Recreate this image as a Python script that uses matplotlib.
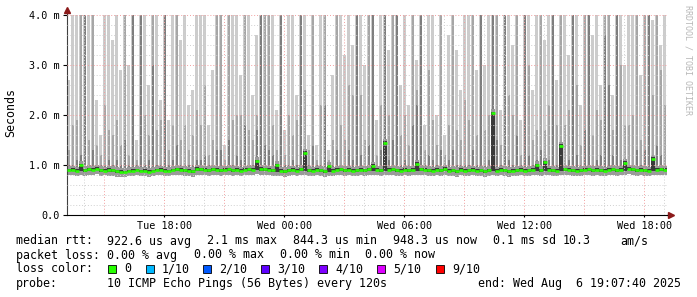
import numpy as np
import matplotlib.pyplot as plt

# ============================================================
# DATEN (Zeit in Stunden ab Di 00:00, Werte in ms)
# ============================================================
t_end = 24 + 19 + 7 / 60 + 40 / 3600     # Wed Aug  6 19:07:40
span_h = 30.0
slot_h = 0.2                              # ein Balken = 12 min

rtt_max = [
    2.7, 4.1, 4.1, 4.1, 4.1, 4.1, 4.1, 2.3, 1.6, 4.1, 4.1, 3.5, 4.1, 2.9, 4.1, 3.0, 4.1, 1.5, 4.1, 4.1,
    2.6, 4.1, 4.1, 2.3, 4.1, 1.9, 4.1, 4.1, 3.5, 4.1, 2.2, 2.5, 4.1, 4.1, 4.1, 1.8, 2.9, 4.1, 4.1, 1.4,
    4.1, 4.1, 4.1, 2.8, 4.1, 4.1, 2.4, 3.6, 4.1, 4.1,
    4.1, 4.1, 2.1, 4.1, 1.7, 4.1, 4.1, 2.4, 4.1, 4.1, 1.6, 4.1, 1.4, 4.1, 4.1, 1.3, 2.8, 4.1, 4.1, 3.2,
    4.1, 3.4, 4.1, 4.1, 3.0, 4.1, 4.1, 1.9, 4.1, 4.1, 3.3, 4.1, 4.1, 2.6, 4.1, 2.2, 4.1, 3.1, 4.1, 1.8,
    4.1, 4.1, 2.0, 4.1, 1.6, 3.6, 4.1, 3.3, 2.5, 4.1,
    4.1, 4.1, 2.9, 4.1, 3.0, 4.1, 4.1, 4.1, 2.1, 4.1, 4.1, 3.4, 4.1, 1.9, 4.1, 4.1, 2.5, 4.1, 4.1, 3.5,
    4.1, 4.1, 2.7, 4.1, 4.1, 3.2, 4.1, 4.1, 2.2, 4.1, 4.1, 3.6, 4.1, 2.6, 4.1, 4.1, 2.4, 4.1, 4.1, 3.0,
    4.1, 4.1, 4.1, 2.8, 4.1, 4.1, 3.9, 4.1, 3.4, 4.1,
]
rtt_p9 = [
    1.3, 1.8, 1.9, 4.1, 4.1, 1.5, 4.1, 1.4, 1.2, 2.2, 1.7, 1.6, 1.9, 1.4, 4.1, 1.2, 4.1, 1.1, 4.1, 2.0,
    1.6, 4.1, 1.7, 1.9, 4.1, 1.3, 1.8, 4.1, 1.5, 1.8, 1.3, 1.6, 2.1, 1.8, 2.6, 1.2, 1.5, 4.1, 4.1, 1.1,
    4.1, 1.9, 2.0, 2.0, 4.1, 1.7, 1.5, 2.0, 4.1, 4.1,
    4.1, 1.8, 1.3, 4.1, 1.2, 2.0, 1.6, 1.9, 4.1, 2.5, 1.3, 4.1, 1.1, 2.2, 4.1, 1.1, 1.5, 4.1, 1.8, 1.5,
    2.6, 2.4, 4.1, 2.4, 1.5, 4.1, 4.1, 1.2, 2.2, 4.1, 2.0, 4.1, 4.1, 1.6, 2.0, 1.4, 4.1, 2.5, 4.1, 1.3,
    2.9, 1.9, 1.4, 4.1, 1.2, 1.8, 4.1, 1.7, 1.5, 2.3,
    1.9, 4.1, 1.6, 4.1, 1.7, 2.0, 4.1, 4.1, 1.4, 4.1, 2.4, 2.0, 4.1, 1.2, 4.1, 3.0, 1.5, 1.7, 4.1, 1.7,
    2.2, 4.1, 1.8, 4.1, 1.8, 2.1, 4.1, 2.6, 1.4, 4.1, 4.1, 1.6, 2.1, 1.9, 4.1, 4.1, 1.7, 4.1, 3.0, 1.8,
    1.8, 2.0, 4.1, 1.5, 4.1, 4.1, 2.4, 4.1, 2.9, 2.2,
]
rtt_p8 = [
    1.0, 1.0, 1.1, 1.2, 4.1, 1.0, 1.3, 1.0, 1.0, 1.0, 1.1, 1.0, 1.1, 1.0, 1.5, 1.0, 4.1, 1.0, 4.1, 1.0,
    1.1, 3.0, 1.0, 1.0, 4.1, 1.0, 1.1, 1.4, 1.0, 1.0, 1.0, 1.0, 1.1, 1.1, 1.2, 1.0, 1.0, 1.3, 1.3, 1.0,
    1.5, 1.0, 1.2, 1.1, 1.8, 1.0, 1.0, 1.7, 4.1, 1.4,
    1.3, 1.2, 1.0, 4.1, 1.0, 1.0, 1.1, 1.0, 4.1, 1.1, 1.0, 1.4, 1.0, 1.0, 2.2, 1.0, 1.0, 1.3, 1.0, 1.0,
    1.3, 1.1, 4.1, 1.2, 1.0, 1.4, 4.1, 1.0, 1.3, 4.1, 1.1, 1.5, 4.1, 1.0, 1.1, 1.0, 1.8, 2.2, 4.1, 1.0,
    1.2, 1.1, 1.0, 1.3, 1.0, 1.1, 1.3, 1.0, 1.0, 1.0,
    1.0, 1.3, 1.0, 4.1, 1.0, 1.1, 4.1, 1.5, 1.0, 4.1, 1.1, 1.0, 1.6, 1.0, 4.1, 1.2, 1.0, 1.1, 1.3, 1.0,
    1.1, 4.1, 1.0, 1.4, 1.0, 1.1, 4.1, 1.2, 1.0, 1.7, 4.1, 1.0, 1.1, 1.2, 3.6, 2.6, 1.2, 4.1, 1.1, 1.0,
    1.0, 1.0, 1.3, 1.0, 1.3, 4.1, 1.1, 1.4, 1.2, 1.0,
]
rtt_median = [
    0.90, 0.91, 0.89, 1.00, 0.90, 0.92, 0.91, 0.93, 0.90, 0.89, 0.91, 0.90, 0.88, 0.87, 0.86, 0.88, 0.89, 0.90, 0.88, 0.89,
    0.87, 0.88, 0.90, 0.91, 0.89, 0.88, 0.90, 0.92, 0.91, 0.90, 0.89, 0.88, 0.93, 0.92, 0.91, 0.90, 0.92, 0.91, 0.90, 0.91,
    0.92, 0.90, 0.91, 0.89, 0.91, 0.92, 0.91, 1.08, 0.93, 0.92,
    0.91, 0.90, 1.00, 0.89, 0.88, 0.90, 0.91, 0.89, 0.92, 1.25, 0.90, 0.89, 0.91, 0.90, 0.88, 0.98, 0.89, 0.91, 0.92, 0.90,
    0.91, 0.89, 0.90, 0.91, 0.90, 0.92, 0.99, 0.91, 0.90, 1.45, 0.91, 0.92, 0.90, 0.89, 0.91, 0.90, 0.91, 1.03, 0.92, 0.91,
    0.90, 0.89, 0.91, 0.90, 0.93, 0.89, 0.90, 0.88, 0.91, 0.89,
    0.90, 0.91, 0.89, 0.90, 0.88, 0.90, 2.04, 0.89, 0.91, 0.90, 0.88, 0.89, 0.90, 0.91, 0.89, 0.90, 0.91, 1.00, 0.90, 1.06,
    0.91, 0.90, 0.89, 1.39, 0.92, 0.91, 0.90, 0.89, 0.90, 0.91, 0.92, 0.90, 0.91, 0.90, 0.89, 0.91, 0.92, 0.90, 0.91, 1.05,
    0.93, 0.92, 0.90, 0.91, 0.90, 0.89, 1.13, 0.91, 0.92, 0.91,
]
rtt_min = [
    0.80, 0.81, 0.79, 0.80, 0.78, 0.81, 0.80, 0.82, 0.79, 0.80, 0.78, 0.79, 0.77, 0.76, 0.76, 0.78, 0.79, 0.80, 0.78, 0.79,
    0.77, 0.78, 0.80, 0.81, 0.79, 0.78, 0.80, 0.81, 0.80, 0.79, 0.78, 0.77, 0.81, 0.80, 0.80, 0.79, 0.81, 0.80, 0.79, 0.80,
    0.81, 0.79, 0.80, 0.78, 0.80, 0.81, 0.80, 0.82, 0.81, 0.80,
    0.80, 0.79, 0.78, 0.79, 0.77, 0.79, 0.80, 0.78, 0.81, 0.80, 0.79, 0.78, 0.80, 0.79, 0.77, 0.78, 0.78, 0.80, 0.81, 0.79,
    0.80, 0.78, 0.79, 0.80, 0.79, 0.81, 0.80, 0.80, 0.79, 0.81, 0.80, 0.81, 0.79, 0.78, 0.80, 0.79, 0.80, 0.81, 0.81, 0.80,
    0.79, 0.78, 0.80, 0.79, 0.81, 0.78, 0.79, 0.77, 0.80, 0.78,
    0.79, 0.80, 0.78, 0.79, 0.77, 0.79, 0.80, 0.78, 0.80, 0.79, 0.77, 0.78, 0.79, 0.80, 0.78, 0.79, 0.80, 0.81, 0.79, 0.80,
    0.80, 0.79, 0.78, 0.80, 0.81, 0.80, 0.79, 0.78, 0.79, 0.80, 0.81, 0.79, 0.80, 0.79, 0.78, 0.80, 0.81, 0.79, 0.80, 0.81,
    0.82, 0.81, 0.79, 0.80, 0.79, 0.78, 0.80, 0.80, 0.81, 0.80,
]

y_ticks = [0, 1, 2, 3, 4]
y_labels = ['0.0', '1.0 m', '2.0 m', '3.0 m', '4.0 m']
x_ticks = [18, 24, 30, 36, 42]
x_labels = ['Tue 18:00', 'Wed 00:00', 'Wed 06:00', 'Wed 12:00', 'Wed 18:00']

loss_names = ['0', '1/10', '2/10', '3/10', '4/10', '5/10', '9/10']
loss_colors = ['#26ff00', '#00b8ff', '#0059ff', '#5e00ff', '#7e00ff', '#dd00ff', '#ff0000']

stats_rtt = ['922.6 us avg', '2.1 ms max', '844.3 us min', '948.3 us now', '0.1 ms sd', '10.3', 'am/s']
stats_loss = ['0.00 % avg', '0.00 % max', '0.00 % min', '0.00 % now']
probe_txt = '10 ICMP Echo Pings (56 Bytes) every 120s'
end_txt = 'end: Wed Aug  6 19:07:40 2025'

# ============================================================
# PLOT
# ============================================================
W, H = 697, 297
fig = plt.figure(figsize=(W / 100, H / 100), dpi=100)
fig.patch.set_facecolor('white')
ax = fig.add_axes([67 / W, 1 - 215 / H, 600 / W, 200 / H])

t_start = t_end - span_h
n = len(rtt_max)
left = t_start + slot_h * np.arange(n)
lo = np.array(rtt_min)
med = np.array(rtt_median)

# Smoke: äußere Pings hell, innere dunkler und schmaler
ax.bar(left, np.array(rtt_max) - lo, bottom=lo, width=slot_h * 0.75, align='edge',
       color='#cccccc', lw=0, zorder=1, antialiased=False)
ax.bar(left + slot_h * 0.25, np.array(rtt_p9) - (lo + 0.02), bottom=lo + 0.02, width=slot_h * 0.5, align='edge',
       color='#a6a6a6', lw=0, zorder=1.1, antialiased=False)
ax.bar(left + slot_h * 0.25, np.array(rtt_p8) - (lo + 0.05), bottom=lo + 0.05, width=slot_h * 0.5, align='edge',
       color='#7e7e7e', lw=0, zorder=1.2, antialiased=False)
# Bereich direkt unter/über dem Median: durchgehend grau
ax.bar(left, (med + 0.08) - lo, bottom=lo, width=slot_h, align='edge',
       color='#9a9a9a', lw=0, zorder=1.25, antialiased=False)
ax.bar(left, (med + 0.03) - (lo + 0.08), bottom=lo + 0.08, width=slot_h, align='edge',
       color='#3a3a3a', lw=0, zorder=1.3, antialiased=False)

# Median (Farbe = Paketverlust 0)
ax.hlines(med, left, left + slot_h, color=loss_colors[0], lw=1.9, zorder=4)

ax.set_xlim(t_start, t_end)
ax.set_ylim(0, 4.0)

# Gitter
for h in np.arange(14, 44):
    major = (h % 3 == 0)
    ax.axvline(h, color='#f2a0a0' if major else '#d0d0d0', lw=0.7, ls=(0, (1, 2)), zorder=3)
for v in np.arange(0.2, 4.01, 0.2):
    major = abs(v - round(v)) < 1e-6
    ax.axhline(v, color='#f2a0a0' if major else '#d0d0d0', lw=0.7, ls=(0, (1, 2)), zorder=3)

ax.set_yticks(y_ticks)
ax.set_yticklabels(y_labels)
ax.set_xticks(x_ticks)
ax.set_xticklabels(x_labels)
ax.tick_params(axis='y', length=3, width=0.8, pad=2.5, labelsize=7.3)
ax.tick_params(axis='x', length=1.5, width=0.8, pad=2.5, labelsize=7.3)
for lab in ax.get_xticklabels() + ax.get_yticklabels():
    lab.set_family('DejaVu Sans Mono')

for s in ['top', 'right']:
    ax.spines[s].set_visible(False)
ax.spines['left'].set_color('#404040')
ax.spines['bottom'].set_color('#000000')

# Pfeile an den Achsen
ax.plot([0, 0], [1, 1.025], color='#404040', lw=0.8, transform=ax.transAxes, clip_on=False)
ax.plot([1, 1.006], [0, 0], color='#000000', lw=0.8, transform=ax.transAxes, clip_on=False)
ax.plot(0, 1.025, marker='^', ms=4, color='#8b1a1a', transform=ax.transAxes, clip_on=False)
ax.plot(1.006, 0, marker='>', ms=4, color='#8b1a1a', transform=ax.transAxes, clip_on=False)

mono = 'DejaVu Sans Mono'
fig.text(11 / W, 1 - 113 / H, 'Seconds', rotation=90, ha='center', va='center', family=mono, fontsize=8.4)
fig.text(688 / W, 1 - 5 / H, 'RRDTOOL / TOBI OETIKER', rotation=270, ha='center', va='top',
         family=mono, fontsize=6, color='#b8b8b8')

# ============================================================
# LEGENDE
# ============================================================
def txt(px, py, s):
    fig.text(px / W, 1 - py / H, s, ha='left', va='center', family=mono, fontsize=8.4)

txt(16, 241, 'median rtt:')
for px, s in zip([107, 207, 293, 393, 493, 563, 620], stats_rtt):
    txt(px, 241, s)
txt(16, 255, 'packet loss:')
for px, s in zip([107, 194, 280, 365], stats_loss):
    txt(px, 255, s)
txt(16, 269, 'loss color:')
for px, name, c in zip([108, 146, 203, 261, 319, 377, 436], loss_names, loss_colors):
    fig.patches.append(plt.Rectangle((px / W, 1 - 273 / H), 8 / W, 8 / H, transform=fig.transFigure,
                                     facecolor=c, edgecolor='black', lw=0.6))
    txt(px + 16, 269, name)
txt(16, 283, 'probe:')
txt(107, 283, probe_txt)
txt(478, 283, end_txt)

fig.savefig('out.png', dpi=100, facecolor='white')
